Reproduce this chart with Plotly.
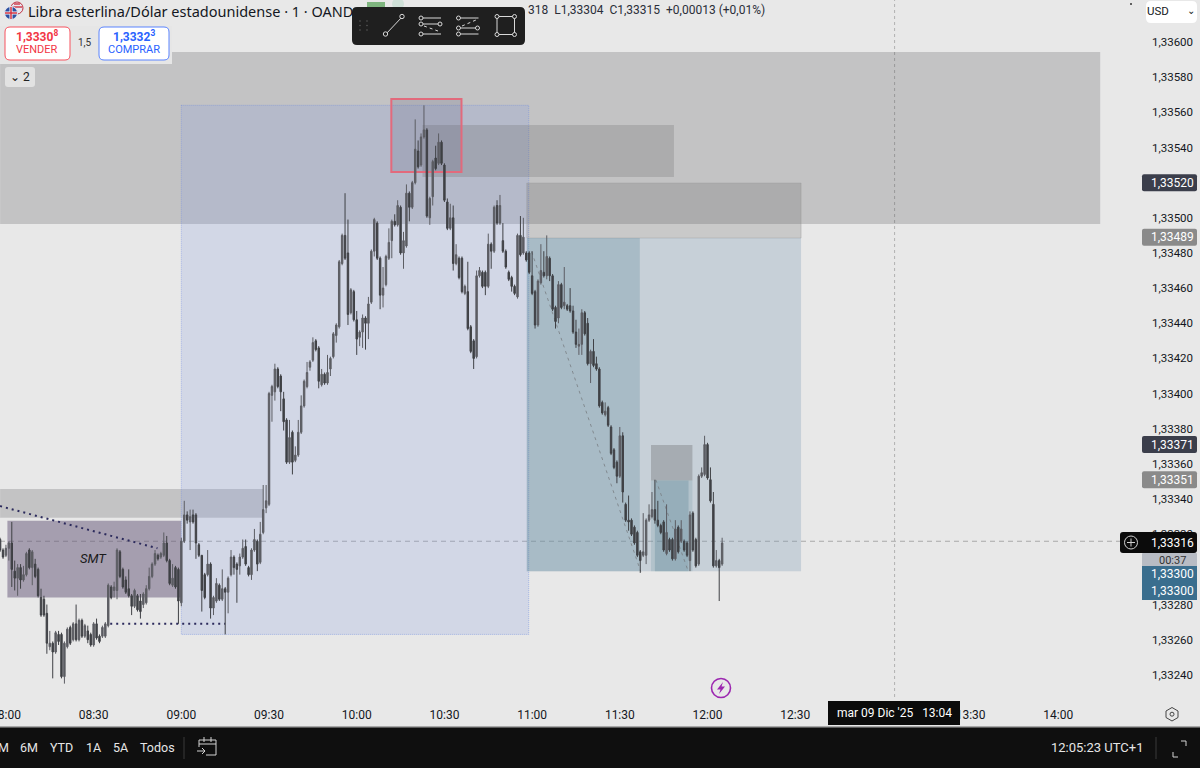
import pandas as pd
import plotly.graph_objs as go

# 1 min GBPUSD candles, quotes in 1e-5 above 1.0 (07:58 -> 12:05)
opens = [
    33317,33311,33308,33312,33315,33299,33295,33301,33294,33297,
    33311,33301,33303,33300,33284,33283,33275,33256,33258,33253,
    33263,33263,33239,33256,33267,33260,33269,33260,33271,33262,
    33265,33263,33257,33269,33262,33262,33262,33268,33290,33288,
    33288,33310,33300,33294,33289,33285,33279,33285,33282,33280,
    33281,33289,33296,33303,33308,33307,33308,33315,33305,33291,
    33301,33300,33281,33316,33331,33327,33331,33331,33314,33308,
    33297,33297,33303,33278,33282,33291,33283,33289,33287,33297,
    33307,33303,33302,33307,33313,33301,33297,33311,33316,33304,
    33321,33335,33337,33399,33401,33414,33410,33397,33385,33361,
    33378,33362,33365,33378,33393,33404,33415,33419,33430,33426,
    33405,33411,33406,33414,33421,33433,33438,33474,33490,33480,
    33446,33458,33442,33432,33435,33443,33440,33452,33481,33497,
    33477,33456,33462,33477,33487,33498,33496,33506,33480,33484,
    33514,33506,33520,33538,33530,33546,33550,33500,33512,33534,
    33531,33543,33530,33509,33494,33500,33474,33477,33477,33457,
    33458,33438,33430,33421,33467,33469,33469,33461,33485,33481,
    33507,33497,33487,33481,33469,33466,33461,33455,33490,33480,
    33480,33480,33467,33458,33439,33463,33469,33467,33477,33467,
    33449,33443,33462,33450,33450,33450,33447,33435,33427,33428,
    33446,33440,33417,33424,33417,33414,33395,33388,33392,33381,
    33368,33361,33353,33376,33337,33328,33328,33324,33321,33310,
    33308,33308,33328,33330,33334,33328,33325,33327,33309,33317,
    33317,33306,33324,33316,33316,33315,33305,33332,33317,33303,
    33353,33354,33371,33351,33337,33302,33305,33303,
]
highs = [
    33318,33312,33314,33316,33327,33305,33303,33303,33302,33310,
    33312,33311,33306,33301,33289,33285,33280,33265,33259,33265,
    33265,33264,33259,33267,33268,33270,33280,33272,33272,33269,
    33268,33264,33270,33272,33263,33268,33270,33292,33291,33293,
    33312,33311,33301,33296,33300,33286,33289,33286,33286,33287,
    33291,33301,33304,33311,33309,33310,33321,33319,33306,33303,
    33302,33301,33318,33339,33333,33334,33334,33332,33315,33308,
    33298,33311,33304,33285,33295,33292,33300,33290,33296,33311,
    33308,33304,33309,33317,33317,33302,33312,33323,33317,33327,
    33348,33348,33401,33405,33417,33415,33411,33401,33386,33385,
    33379,33370,33385,33399,33408,33418,33419,33432,33431,33427,
    33414,33412,33422,33421,33435,33440,33476,33491,33514,33499,
    33460,33459,33447,33436,33445,33444,33455,33482,33500,33498,
    33478,33472,33479,33494,33499,33502,33510,33507,33492,33519,
    33515,33521,33556,33544,33548,33564,33551,33512,33533,33541,
    33548,33544,33531,33511,33508,33507,33485,33478,33478,33462,
    33475,33439,33431,33470,33472,33470,33470,33491,33486,33507,
    33510,33513,33497,33482,33470,33467,33462,33491,33501,33500,
    33481,33481,33481,33459,33465,33485,33481,33490,33478,33468,
    33450,33464,33463,33472,33451,33460,33450,33442,33437,33448,
    33447,33443,33425,33431,33421,33415,33396,33395,33393,33382,
    33369,33362,33381,33378,33338,33342,33329,33325,33322,33311,
    33332,33329,33337,33344,33351,33339,33326,33328,33337,33318,
    33318,33328,33325,33328,33317,33316,33333,33333,33318,33354,
    33358,33376,33372,33358,33344,33311,33306,33318,
]
lows = [
    33310,33306,33307,33305,33290,33288,33285,33289,33293,33296,
    33300,33291,33295,33284,33273,33273,33252,33254,33238,33252,
    33257,33238,33235,33255,33257,33259,33259,33259,33261,33261,
    33258,33256,33256,33260,33258,33261,33261,33267,33283,33284,
    33283,33295,33289,33286,33284,33274,33278,33276,33272,33278,
    33280,33288,33295,33302,33305,33306,33307,33304,33291,33290,
    33289,33269,33279,33315,33326,33311,33326,33306,33307,33276,
    33283,33296,33272,33274,33281,33282,33282,33263,33275,33296,
    33297,33281,33297,33306,33302,33296,33294,33310,33299,33303,
    33320,33332,33336,33384,33396,33403,33390,33379,33360,33360,
    33354,33361,33364,33377,33392,33403,33413,33418,33424,33403,
    33404,33405,33405,33410,33420,33429,33437,33473,33476,33439,
    33445,33441,33422,33427,33426,33425,33431,33451,33478,33476,
    33448,33449,33461,33476,33477,33495,33495,33479,33471,33483,
    33498,33505,33519,33528,33529,33545,33500,33496,33507,33527,
    33530,33530,33509,33493,33493,33470,33473,33465,33457,33456,
    33436,33423,33414,33420,33466,33460,33456,33460,33471,33480,
    33496,33496,33480,33471,33464,33458,33456,33454,33478,33479,
    33475,33468,33456,33437,33438,33462,33466,33465,33464,33447,
    33437,33440,33448,33448,33447,33446,33434,33426,33422,33422,
    33433,33416,33406,33415,33413,33392,33388,33387,33381,33365,
    33357,33349,33352,33338,33327,33322,33319,33314,33307,33298,
    33307,33303,33327,33329,33326,33324,33320,33310,33308,33310,
    33305,33305,33309,33315,33310,33307,33299,33310,33301,33302,
    33352,33353,33351,33338,33301,33301,33282,33302,
]
closes = [
    33311,33307,33312,33315,33300,33295,33301,33294,33297,33309,
    33301,33310,33296,33285,33274,33274,33258,33258,33253,33264,
    33259,33239,33258,33266,33258,33269,33260,33271,33262,33268,
    33260,33257,33269,33261,33259,33267,33269,33291,33284,33290,
    33311,33296,33290,33287,33285,33279,33288,33277,33276,33286,
    33289,33296,33303,33309,33306,33309,33315,33305,33292,33295,
    33290,33282,33316,33331,33328,33330,33327,33315,33308,33288,
    33284,33303,33278,33284,33292,33283,33289,33287,33295,33307,
    33301,33300,33307,33312,33303,33297,33311,33317,33303,33320,
    33334,33339,33400,33404,33414,33404,33401,33384,33361,33375,
    33361,33365,33378,33393,33407,33412,33418,33429,33425,33407,
    33411,33406,33412,33420,33434,33439,33475,33490,33477,33445,
    33459,33442,33431,33435,33443,33440,33451,33481,33499,33477,
    33456,33460,33478,33486,33498,33496,33507,33480,33487,33514,
    33506,33520,33539,33529,33546,33550,33501,33511,33532,33528,
    33543,33531,33510,33494,33500,33474,33479,33466,33458,33461,
    33437,33424,33420,33467,33470,33461,33461,33485,33481,33506,
    33497,33507,33481,33472,33465,33461,33457,33490,33479,33489,
    33476,33469,33457,33439,33464,33470,33467,33478,33467,33448,
    33441,33462,33449,33452,33448,33447,33435,33428,33428,33446,
    33434,33417,33424,33416,33414,33393,33389,33390,33382,33366,
    33358,33353,33376,33344,33328,33327,33320,33315,33308,33305,
    33310,33328,33331,33334,33328,33325,33321,33311,33321,33311,
    33306,33323,33310,33323,33311,33308,33331,33311,33302,33353,
    33355,33371,33352,33339,33302,33305,33301,33315,
]

FIRST_BAR = "2025-12-09 07:58"
price_ticks = [33240, 33260, 33280, 33300, 33320, 33340, 33360, 33380, 33400, 33420, 33440,
               33460, 33480, 33500, 33520, 33540, 33560, 33580, 33600]
time_ticks = ["08:00", "08:30", "09:00", "09:30", "10:00", "10:30", "11:00", "11:30",
              "12:00", "12:30", "13:30", "14:00"]
cursor_time = "13:04"
cursor_price = 33316

# zones: start, end, top, bottom
gray_zones = [
    ("07:58", "14:14:20", 33594.3, 33496.5),
    ("07:58", "09:28", 33345.7, 33329.4),
]
blue_zone = ("09:00", "10:58:50", 33564, 33263)
red_zone = ("10:11:50", "10:35:50", 33567.6, 33526)
fvg_zones = [
    ("10:22:30", "11:48:30", 33552.8, 33523.2),
    ("10:58:10", "12:32", 33519.8, 33488.5),
    ("11:40:40", "11:54:50", 33370.8, 33350.5),
]
short_zones = [
    ("10:58:10", "12:32", 33488.5, 33299),
    ("10:58:10", "11:36:50", 33488.5, 33299),
    ("11:40:40", "11:54:50", 33350.5, 33299),
    ("11:42", "11:53:30", 33350.5, 33299),
]
smt_zone = ("08:00:30", "09:00", 33327.7, 33284)
smt_dots = [("07:58", 33336), ("08:51:50", 33312)]
low_dots = [("08:35:40", 33269), ("09:15", 33269)]
fall_lines = [
    [("10:59:50", 33480.7), ("11:37:10", 33298.7)],
    [("11:42:20", 33350.9), ("11:53:10", 33300)],
]

# price tags on the right scale: price, text, colour
price_tags = [
    (33520, "1,33520", "#3b3e4b"),
    (33489, "1,33489", "#8a8a8a"),
    (33371, "1,33371", "#3b3e4b"),
    (33351, "1,33351", "#8a8a8a"),
]

PLOT_W = 1146
PLOT_H = 697


def t(hhmm):
    return "2025-12-09 " + hhmm


def q(points):
    return 1 + points / 100000


def px(x):
    return x / PLOT_W


def py(y):
    return 1 - y / PLOT_H


def data_rect(zone, fill, line=None, dash=None, width=1):
    start, end, top, bottom = zone
    return dict(type="rect", xref="x", yref="y", x0=t(start), x1=t(end), y0=q(top), y1=q(bottom),
                fillcolor=fill, line=dict(color=line or "rgba(0,0,0,0)", width=width if line else 0, dash=dash),
                layer="below")


def data_line(a, b, color, width, dash):
    return dict(type="line", xref="x", yref="y", x0=t(a[0]), y0=q(a[1]), x1=t(b[0]), y1=q(b[1]),
                line=dict(color=color, width=width, dash=dash), layer="below")


def box(x0, y0, x1, y1, fill, line=None, width=1):
    return dict(type="rect", xref="paper", yref="paper", x0=px(x0), y0=py(y0), x1=px(x1), y1=py(y1),
                fillcolor=fill, line=dict(color=line or "rgba(0,0,0,0)", width=width if line else 0),
                layer="above")


def round_box(x0, y0, x1, y1, r, fill, line=None, width=1):
    p = (f"M {px(x0 + r)} {py(y0)} L {px(x1 - r)} {py(y0)} Q {px(x1)} {py(y0)} {px(x1)} {py(y0 + r)} "
         f"L {px(x1)} {py(y1 - r)} Q {px(x1)} {py(y1)} {px(x1 - r)} {py(y1)} "
         f"L {px(x0 + r)} {py(y1)} Q {px(x0)} {py(y1)} {px(x0)} {py(y1 - r)} "
         f"L {px(x0)} {py(y0 + r)} Q {px(x0)} {py(y0)} {px(x0 + r)} {py(y0)} Z")
    return dict(type="path", xref="paper", yref="paper", path=p, fillcolor=fill,
                line=dict(color=line or "rgba(0,0,0,0)", width=width if line else 0), layer="above")


def seg(x0, y0, x1, y1, color, width=1, dash=None):
    return dict(type="line", xref="paper", yref="paper", x0=px(x0), y0=py(y0), x1=px(x1), y1=py(y1),
                line=dict(color=color, width=width, dash=dash), layer="above")


def dot(x, y, r, fill, line=None, width=1):
    return dict(type="circle", xref="paper", yref="paper", x0=px(x - r), y0=py(y - r), x1=px(x + r), y1=py(y + r),
                fillcolor=fill, line=dict(color=line or "rgba(0,0,0,0)", width=width if line else 0),
                layer="above")


def poly(points, fill=None, line=None, width=1):
    p = "M " + " L ".join(f"{px(a)} {py(b)}" for a, b in points) + " Z"
    return dict(type="path", xref="paper", yref="paper", path=p, fillcolor=fill or "rgba(0,0,0,0)",
                line=dict(color=line or "rgba(0,0,0,0)", width=width if line else 0), layer="above")


def label(x, y, text, color="#131722", size=12, anchor="center", font="Roboto"):
    return dict(xref="paper", yref="paper", x=px(x), y=py(y), text=text, showarrow=False, xanchor=anchor,
                yanchor="middle", font=dict(color=color, size=size, family=font))


times = pd.date_range(FIRST_BAR, periods=len(opens), freq="min")

fig = go.Figure(go.Candlestick(
    x=times,
    open=[q(v) for v in opens],
    high=[q(v) for v in highs],
    low=[q(v) for v in lows],
    close=[q(v) for v in closes],
    whiskerwidth=0,
    line=dict(width=1),
    increasing=dict(line=dict(color="#5c5d63"), fillcolor="#5c5d63"),
    decreasing=dict(line=dict(color="#3f4045"), fillcolor="#3f4045"),
    hoverinfo="skip",
))

shapes = []
# zones under the candles
GRAY = "rgba(80,80,85,0.24)"
shapes.append(data_rect(gray_zones[0], GRAY))
shapes.append(data_rect(gray_zones[1], GRAY))
shapes.append(data_rect(smt_zone, "rgba(98,84,118,0.5)"))
shapes.append(data_rect(blue_zone, "rgba(130,155,225,0.22)", "rgba(110,140,230,0.5)", "1px,1px"))
shapes.append(data_rect(fvg_zones[0], "rgba(90,90,90,0.22)"))
shapes.append(data_rect(fvg_zones[1], "rgba(90,90,90,0.22)", "rgba(150,150,150,0.35)"))
shapes.append(data_rect(short_zones[0], "rgba(122,152,179,0.3)"))
shapes.append(data_rect(short_zones[1], "rgba(96,138,156,0.3)"))
shapes.append(data_rect(fvg_zones[2], "rgba(90,90,90,0.3)"))
shapes.append(data_rect(short_zones[2], "rgba(96,138,156,0.2)"))
shapes.append(data_rect(short_zones[3], "rgba(96,138,156,0.35)"))
shapes.append(data_rect(red_zone, "rgba(90,90,120,0.18)", "#e26a7c", None, 2))
shapes.append(data_line(smt_dots[0], smt_dots[1], "#2b2a5c", 2, "2px,4px"))
shapes.append(data_line(low_dots[0], low_dots[1], "#2b2a5c", 2, "2px,4px"))
for a, b in fall_lines:
    shapes.append(data_line(a, b, "rgba(120,125,130,0.8)", 1, "3px,4px"))
# crosshair
shapes.append(dict(type="line", xref="paper", yref="y", x0=0, x1=px(1120), y0=q(cursor_price), y1=q(cursor_price),
                   line=dict(color="#a8a8a8", width=1, dash="5px,4px"), layer="below"))
shapes.append(dict(type="line", xref="x", yref="paper", x0=t(cursor_time), x1=t(cursor_time), y0=0, y1=1,
                   line=dict(color="#b0b0b0", width=1, dash="3px,3px"), layer="below"))

# header
shapes.append(box(0, 26, 172, 64, "#e6e6e6"))
shapes.append(round_box(5, 27, 70, 60, 5, "#ffffff", "#f7525f"))
shapes.append(round_box(99, 27, 169, 60, 5, "#ffffff", "#5b84ff"))
shapes.append(round_box(5, 67, 35, 87, 3, "#e2e2e2"))
shapes.append(dot(17, 8, 6, "#e8e8f0", "#c03040"))
shapes.append(seg(12, 7, 22, 7, "#d04050", 1.5))
shapes.append(seg(14, 4, 20, 4, "#d04050", 1.5))
shapes.append(dot(11, 13, 6.5, "#2b4fa0", "#e8e8f0", 1))
shapes.append(seg(5, 13, 17, 13, "#ffffff", 3))
shapes.append(seg(11, 7, 11, 19, "#ffffff", 3))
shapes.append(seg(5, 13, 17, 13, "#d03040", 1.5))
shapes.append(seg(11, 7, 11, 19, "#d03040", 1.5))
shapes.append(box(367, 2, 385, 7, "#7fb57f"))
shapes.append(dot(398, 4, 6, "#cfe0d8"))
shapes.append(round_box(1146, 1, 1197, 23, 5, "#ffffff"))
shapes.append(dot(1131, 4, 1, "#333333"))

# drawing toolbar
shapes.append(round_box(352, 7, 525, 45, 5, "#1f1f1f"))
ICON = "#d8d8d8"
for gx in (360, 367):
    for gy in (21, 25.5, 30):
        shapes.append(dot(gx, gy, 0.8, "#5a5a5a"))
shapes.append(seg(386, 34, 402, 17, ICON))
shapes.append(dot(385.5, 34, 2.2, "#1f1f1f", ICON))
shapes.append(dot(402, 16.5, 2.2, "#1f1f1f", ICON))
for x0 in (421, 458.5):
    shapes.append(seg(x0 + 2, 18, x0 + 20, 18, ICON))
    shapes.append(seg(x0 + 2, 34, x0 + 20, 34, ICON))
    shapes.append(seg(x0 + 2, 24 if x0 == 421 else 28, x0 + 18, 24 if x0 == 421 else 28, ICON))
    shapes.append(dot(x0, 18, 2, "#1f1f1f", ICON))
    shapes.append(dot(x0, 24 if x0 == 421 else 28, 2, "#1f1f1f", ICON))
    shapes.append(dot(x0, 34, 2, "#1f1f1f", ICON))
    shapes.append(dot(x0 + 19, 24 if x0 == 421 else 28, 2, "#1f1f1f", ICON))
shapes.append(seg(424, 26, 438, 31, ICON, 1, "dot"))
shapes.append(seg(462, 26, 476, 20, ICON, 1, "dot"))
shapes.append(box(497, 16.5, 514.5, 34.5, "rgba(0,0,0,0)", ICON))
for cx, cy in [(497, 16.5), (514.5, 16.5), (497, 34.5), (514.5, 34.5)]:
    shapes.append(dot(cx, cy, 2, "#1f1f1f", ICON))

# right scale tags
for p, text, color in price_tags:
    yy = 42 + (33600 - p) * 1.758
    shapes.append(round_box(1142, yy - 8.5, 1197, yy + 8.5, 2, color))
shapes.append(round_box(1142, 553, 1197, 567, 1, "#b8bcc4"))
shapes.append(box(1142, 566, 1197, 600, "#3a6e8e"))
shapes.append(round_box(1120, 532, 1197, 553, 3, "#0b0b0b"))
shapes.append(dot(1131, 542.5, 6.5, "#0b0b0b", "#d0d0d0"))
shapes.append(seg(1127, 542.5, 1135, 542.5, "#d0d0d0"))
shapes.append(seg(1131, 538.5, 1131, 546.5, "#d0d0d0"))

# time axis bits
shapes.append(box(828, 701, 960, 725, "#0b0b0b"))
shapes.append(dot(721, 688, 9.5, "#e8e8e8", "#9c27b0", 1.6))
shapes.append(poly([(723, 682), (717, 689.5), (720.5, 689.5), (719, 694), (725, 686.5), (721.5, 686.5)], "#9c27b0"))
shapes.append(poly([(1172, 707.5), (1178, 711), (1178, 717.5), (1172, 721), (1166, 717.5), (1166, 711)], None, "#444444"))
shapes.append(dot(1172, 714.2, 2, "#e8e8e8", "#444444"))

# bottom bar
shapes.append(box(0, 726, 1200, 728, "#a8a8a8"))
shapes.append(box(0, 727.5, 1200, 768, "#0f0f0f"))
shapes.append(seg(184, 737, 184, 759, "#3a3a3a"))
shapes.append(seg(1156, 737, 1156, 759, "#3a3a3a"))
BAR_ICON = "#d4d4d4"
shapes.append(seg(199, 740, 216, 740, BAR_ICON))
shapes.append(seg(216, 740, 216, 755, BAR_ICON))
shapes.append(seg(206, 755, 216, 755, BAR_ICON))
shapes.append(seg(199, 740, 199, 747, BAR_ICON))
shapes.append(seg(199, 744, 216, 744, BAR_ICON))
shapes.append(seg(204, 737, 204, 742, BAR_ICON))
shapes.append(seg(211, 737, 211, 742, BAR_ICON))
shapes.append(seg(197, 751, 205, 751, BAR_ICON))
shapes.append(seg(202, 748, 205, 751, BAR_ICON))
shapes.append(seg(202, 754, 205, 751, BAR_ICON))
shapes.append(seg(1173, 752, 1173, 757, BAR_ICON))
shapes.append(seg(1173, 757, 1178, 757, BAR_ICON))
shapes.append(seg(1181, 741, 1186, 741, BAR_ICON))
shapes.append(seg(1186, 741, 1186, 746, BAR_ICON))

annotations = [
    label(25.5, 11, "Libra esterlina/Dólar estadounidense · 1 · OAND", "#131722", 14.5, "left", "Noto Sans"),
    label(526, 10, "318  L1,33304  C1,33315  +0,00013 (+0,01%)", "#2a2e39", 12, "left"),
    label(37, 36, "<b>1,3330<sup>8</sup></b>", "#f23645", 12),
    label(37, 49, "VENDER", "#f23645", 11),
    label(85, 43, "1,5", "#333333", 10),
    label(134, 36, "<b>1,3332<sup>3</sup></b>", "#2962ff", 12),
    label(134, 49, "COMPRAR", "#2962ff", 11),
    label(20, 77, "⌄ 2", "#222222", 12),
    label(1158, 11, "USD", "#131722", 11.5),
    label(1191, 11, "⌄", "#131722", 10),
    dict(xref="x", yref="y", x=t("08:30"), y=q(33306), text="<i>SMT</i>", showarrow=False,
         font=dict(color="#1a1a1a", size=13, family="Roboto")),
    label(1172, 542.5, "1,33316", "#ffffff", 12),
    label(1172, 560, "00:37", "#333333", 11),
    label(1172, 574, "1,33300", "#ffffff", 12),
    label(1172, 591, "1,33300", "#ffffff", 12),
    label(894, 713, "mar 09 Dic '25   13:04", "#ffffff", 12),
    label(3, 747, "M", "#e6e6e6", 12.5),
    label(29, 747, "6M", "#e6e6e6", 12.5),
    label(61, 747, "YTD", "#e6e6e6", 12.5),
    label(93, 747, "1A", "#e6e6e6", 12.5),
    label(120, 747, "5A", "#e6e6e6", 12.5),
    label(157, 747, "Todos", "#e6e6e6", 12.5),
    label(1097, 747, "12:05:23 UTC+1", "#e6e6e6", 13),
]
for p, text, color in price_tags:
    annotations.append(label(1172, 42 + (33600 - p) * 1.758, text, "#ffffff", 12))

fig.update_layout(
    width=1200,
    height=768,
    margin=dict(l=0, r=1200 - PLOT_W, t=0, b=768 - PLOT_H),
    paper_bgcolor="#e8e8e8",
    plot_bgcolor="#e8e8e8",
    showlegend=False,
    separators=",.",
    shapes=shapes,
    annotations=annotations,
    font=dict(family="Roboto", size=12, color="#131722"),
    xaxis=dict(
        type="date",
        range=[t("07:57:58"), t("14:30")],
        rangeslider=dict(visible=False),
        tickvals=[t(v) for v in time_ticks],
        ticktext=time_ticks,
        showgrid=False,
        zeroline=False,
        ticks="outside",
        ticklen=7,
        tickcolor="rgba(0,0,0,0)",
        ticklabeloverflow="allow",
        automargin=False,
    ),
    yaxis=dict(
        side="right",
        range=[q(33227.4), q(33623.9)],
        tickvals=[q(v) for v in price_ticks],
        tickformat=".5f",
        showgrid=False,
        zeroline=False,
        ticks="",
        ticklabelstandoff=5,
        tickfont=dict(size=11.5),
        automargin=False,
    ),
)

fig.write_html("out.html", config=dict(displayModeBar=False),
               post_script="document.body.style.margin='0';")
